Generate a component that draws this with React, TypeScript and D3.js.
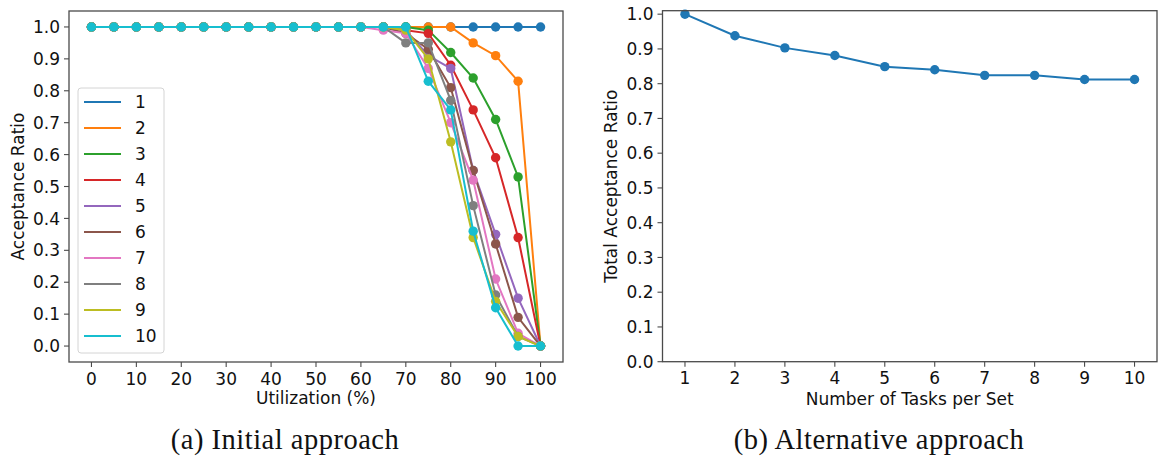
import React from "react";
import * as d3 from "d3";

// Utilization levels (%) on the x axis of panel (a)
const utilization = [0, 5, 10, 15, 20, 25, 30, 35, 40, 45, 50, 55, 60, 65, 70, 75, 80, 85, 90, 95, 100];

// Acceptance ratio per task-set size (1..10), values for 65..100 %; below 65 % every series is 1.0
const tail1 = [1.0, 1.0, 1.0, 1.0, 1.0, 1.0, 1.0, 1.0];
const tail2 = [1.0, 1.0, 1.0, 1.0, 0.95, 0.91, 0.83, 0.0];
const tail3 = [1.0, 1.0, 0.99, 0.92, 0.84, 0.71, 0.53, 0.0];
const tail4 = [1.0, 0.99, 0.98, 0.88, 0.74, 0.59, 0.34, 0.0];
const tail5 = [1.0, 0.99, 0.91, 0.87, 0.55, 0.35, 0.15, 0.0];
const tail6 = [1.0, 0.98, 0.93, 0.81, 0.55, 0.32, 0.09, 0.0];
const tail7 = [0.99, 0.98, 0.87, 0.7, 0.52, 0.21, 0.04, 0.0];
const tail8 = [1.0, 0.95, 0.95, 0.77, 0.44, 0.16, 0.03, 0.0];
const tail9 = [1.0, 0.99, 0.9, 0.64, 0.34, 0.14, 0.03, 0.0];
const tail10 = [1.0, 1.0, 0.83, 0.74, 0.36, 0.12, 0.0, 0.0];

const head = [1.0, 1.0, 1.0, 1.0, 1.0, 1.0, 1.0, 1.0, 1.0, 1.0, 1.0, 1.0, 1.0];

const seriesNames = ["1", "2", "3", "4", "5", "6", "7", "8", "9", "10"];
const seriesTails = [tail1, tail2, tail3, tail4, tail5, tail6, tail7, tail8, tail9, tail10];

// Panel (b): total acceptance ratio vs number of tasks per set
const tasksPerSet = [1, 2, 3, 4, 5, 6, 7, 8, 9, 10];
const totalAcceptance = [1.0, 0.938, 0.903, 0.881, 0.849, 0.84, 0.824, 0.824, 0.812, 0.812];

const xTicksA = [0, 10, 20, 30, 40, 50, 60, 70, 80, 90, 100];
const yTicks = [0, 0.1, 0.2, 0.3, 0.4, 0.5, 0.6, 0.7, 0.8, 0.9, 1.0];

const palette = d3.schemeCategory10;

const TICK_FONT = "'DejaVu Sans', sans-serif";
const CAPTION_FONT = "'Liberation Serif', serif";
const FS = 17;
const SPINE = "#4a4a4a";
const MARKER_R = 4.7;

export default function App() {
  // Panel (a) scales
  const xA = d3.scaleLinear().domain([-5, 105]).range([69, 563]);
  const yA = d3.scaleLinear().domain([-0.05, 1.05]).range([362, 11]);
  // Panel (b) scales
  const xB = d3.scaleLinear().domain([0.55, 10.45]).range([662.5, 1157]);
  const yB = d3.scaleLinear().domain([0, 1.01]).range([361.7, 10.7]);

  const lineA = d3
    .line<[number, number]>()
    .x((d) => xA(d[0]))
    .y((d) => yA(d[1]));
  const lineB = d3
    .line<[number, number]>()
    .x((d) => xB(d[0]))
    .y((d) => yB(d[1]));

  const seriesA = seriesTails.map((tail) =>
    utilization.map((u, i) => [u, [...head, ...tail][i]] as [number, number])
  );
  const pointsB = tasksPerSet.map((t, i) => [t, totalAcceptance[i]] as [number, number]);

  const fmt = d3.format(".1f");

  const [ax0, ax1] = xA.range();
  const [ay0, ay1] = yA.range();
  const [bx0, bx1] = xB.range();
  const [by0, by1] = yB.range();

  // Legend layout
  const legX = 78;
  const legY = 88;
  const legRow = 26;

  return (
    <svg
      width={1158}
      height={459}
      style={{ position: "fixed", left: 0, top: 0, background: "#fff" }}
      fontFamily={TICK_FONT}
    >
      <rect width={1158} height={459} fill="#fff" />

      {/* ---------- Panel (a) ---------- */}
      <g>
        {seriesA.map((pts, s) => (
          <g key={s}>
            <path d={lineA(pts) ?? ""} fill="none" stroke={palette[s]} strokeWidth={2} />
            {pts.map((p, i) => (
              <circle key={i} cx={xA(p[0])} cy={yA(p[1])} r={MARKER_R} fill={palette[s]} />
            ))}
          </g>
        ))}

        <rect x={ax0} y={ay1} width={ax1 - ax0} height={ay0 - ay1} fill="none" stroke={SPINE} strokeWidth={1.3} />

        {xTicksA.map((t) => (
          <g key={t} transform={`translate(${xA(t)},${ay0})`}>
            <line y2={5} stroke={SPINE} strokeWidth={1.1} />
            <text y={23} textAnchor="middle" fontSize={FS} fill="#111">
              {t}
            </text>
          </g>
        ))}
        {yTicks.map((t) => (
          <g key={t} transform={`translate(${ax0},${yA(t)})`}>
            <line x2={-5} stroke={SPINE} strokeWidth={1.1} />
            <text x={-9} dy="0.36em" textAnchor="end" fontSize={FS} fill="#111">
              {fmt(t)}
            </text>
          </g>
        ))}
        <text x={(ax0 + ax1) / 2} y={404} textAnchor="middle" fontSize={FS} fill="#111">
          Utilization (%)
        </text>
        <text
          transform={`translate(24,${(ay0 + ay1) / 2}) rotate(-90)`}
          textAnchor="middle"
          fontSize={FS}
          fill="#111"
        >
          Acceptance Ratio
        </text>

        {/* legend */}
        <rect
          x={legX}
          y={legY}
          width={86}
          height={265}
          rx={3}
          fill="#fff"
          fillOpacity={0.8}
          stroke="#d4d4d4"
          strokeWidth={1}
        />
        {seriesNames.map((name, s) => (
          <g key={name} transform={`translate(${legX},${legY + 14 + s * legRow})`}>
            <line x1={6} x2={43} stroke={palette[s]} strokeWidth={2} />
            <text x={57} dy="0.36em" fontSize={FS} fill="#111">
              {name}
            </text>
          </g>
        ))}
      </g>

      {/* ---------- Panel (b) ---------- */}
      <g>
        <path d={lineB(pointsB) ?? ""} fill="none" stroke={palette[0]} strokeWidth={2} />
        {pointsB.map((p, i) => (
          <circle key={i} cx={xB(p[0])} cy={yB(p[1])} r={MARKER_R} fill={palette[0]} />
        ))}
        <rect x={bx0} y={by1} width={bx1 - bx0} height={by0 - by1} fill="none" stroke={SPINE} strokeWidth={1.3} />

        {tasksPerSet.map((t) => (
          <g key={t} transform={`translate(${xB(t)},${by0})`}>
            <line y2={5} stroke={SPINE} strokeWidth={1.1} />
            <text y={22} textAnchor="middle" fontSize={FS} fill="#111">
              {t}
            </text>
          </g>
        ))}
        {yTicks.map((t) => (
          <g key={t} transform={`translate(${bx0},${yB(t)})`}>
            <line x2={-5} stroke={SPINE} strokeWidth={1.1} />
            <text x={-9} dy="0.36em" textAnchor="end" fontSize={FS} fill="#111">
              {fmt(t)}
            </text>
          </g>
        ))}
        <text x={(bx0 + bx1) / 2} y={405} textAnchor="middle" fontSize={FS} fill="#111">
          Number of Tasks per Set
        </text>
        <text
          transform={`translate(617,${(by0 + by1) / 2}) rotate(-90)`}
          textAnchor="middle"
          fontSize={FS}
          fill="#111"
        >
          Total Acceptance Ratio
        </text>
      </g>

      {/* captions */}
      <text
        x={285}
        y={449}
        textAnchor="middle"
        fontSize={28.5}
        letterSpacing={0.5}
        fontFamily={CAPTION_FONT}
        fill="#111"
      >
        (a) Initial approach
      </text>
      <text
        x={879}
        y={449}
        textAnchor="middle"
        fontSize={28.5}
        letterSpacing={0.5}
        fontFamily={CAPTION_FONT}
        fill="#111"
      >
        (b) Alternative approach
      </text>
    </svg>
  );
}
